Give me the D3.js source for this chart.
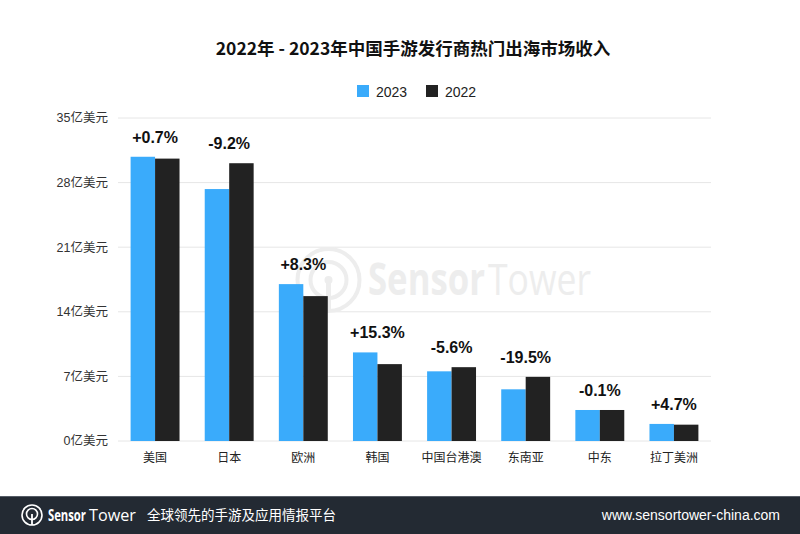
<!DOCTYPE html>
<html><head><meta charset="utf-8">
<script src="https://cdn.jsdelivr.net/npm/d3@7/dist/d3.min.js"></script>
<style>body{margin:0;background:#fff;}svg{display:block;}</style>
</head><body>
<svg id="c" width="800" height="534"></svg>
<script>
const categories = ["美国","日本","欧洲","韩国","中国台港澳","东南亚","中东","拉丁美洲"];
const series = ["2023","2022"];
const values2023 = [30.8, 27.3, 17.0, 9.6, 7.55, 5.6, 3.36, 1.85];
const values2022 = [30.6, 30.1, 15.7, 8.33, 8.0, 6.95, 3.36, 1.77];
const changeLabels = ["+0.7%","-9.2%","+8.3%","+15.3%","-5.6%","-19.5%","-0.1%","+4.7%"];
const yTicks = [0, 7, 14, 21, 28, 35];
const colors = {"2023":"#3aabfb","2022":"#222222"};

const svg = d3.select("#c");
const W = 800, H = 534;
const m = {left:118, right:89, top:118, bottom:93};
const x0 = d3.scaleBand().domain(categories).range([m.left, W - m.right]).paddingInner(0.34).paddingOuter(0.17);
const x1 = d3.scaleBand().domain(series).range([0, x0.bandwidth()]);
const y = d3.scaleLinear().domain([0, 35]).range([H - m.bottom, m.top]);
const latin = "'Liberation Sans', Arial, 'Noto Sans CJK SC', sans-serif";
const cjk = "'Noto Sans CJK SC', sans-serif";
const brand = "'Open Sans', 'Noto Sans', sans-serif";

// fitted text: draws text at (x, baseline) and squeezes it horizontally to targetW
function fitText(parent, str, x, yb, size, weight, fill, targetW) {
  const g = parent.append("g");
  const t = g.append("text").attr("x", 0).attr("y", 0).attr("font-family", brand)
    .attr("font-size", size).attr("font-weight", weight).attr("fill", fill).text(str);
  const w = t.node().getComputedTextLength() || targetW;
  g.attr("transform", `translate(${x},${yb}) scale(${targetW / w},1)`);
  return g;
}

// gridlines
svg.append("g").selectAll("line").data(yTicks).join("line")
  .attr("x1", m.left).attr("x2", W - m.right)
  .attr("y1", d => y(d)).attr("y2", d => y(d))
  .attr("stroke", "#e6e6e6").attr("stroke-width", 1);

// watermark
const wm = svg.append("g");
const wc = "#ededed";
wm.append("circle").attr("cx", 328.5).attr("cy", 280).attr("r", 31).attr("fill", "none").attr("stroke", wc).attr("stroke-width", 4);
wm.append("circle").attr("cx", 328.5).attr("cy", 280).attr("r", 18).attr("fill", "none").attr("stroke", wc).attr("stroke-width", 4);
wm.append("line").attr("x1", 328.5).attr("x2", 328.5).attr("y1", 280).attr("y2", 310).attr("stroke", wc).attr("stroke-width", 5);
wm.append("circle").attr("cx", 328.5).attr("cy", 280).attr("r", 4).attr("fill", wc);
fitText(wm, "Sensor", 368, 295, 44, 700, wc, 117);
fitText(wm, "Tower", 488, 295, 44, 400, wc, 103);

// y axis labels
svg.append("g").selectAll("text").data(yTicks).join("text")
  .attr("x", 108).attr("y", d => y(d)).attr("dy", "0.35em")
  .attr("text-anchor", "end").attr("font-family", latin).attr("font-size", 12.5).attr("fill", "#333")
  .text(d => d + "亿美元");

// bars
const groups = svg.append("g").selectAll("g").data(categories).join("g")
  .attr("transform", d => `translate(${x0(d)},0)`);
groups.selectAll("rect").data((d, i) => [{s:"2023", v:values2023[i]}, {s:"2022", v:values2022[i]}]).join("rect")
  .attr("x", d => x1(d.s)).attr("width", x1.bandwidth())
  .attr("y", d => y(d.v)).attr("height", d => y(0) - y(d.v))
  .attr("fill", d => colors[d.s]);

// change labels
groups.append("text")
  .attr("x", x0.bandwidth() / 2)
  .attr("y", (d, i) => y(Math.max(values2023[i], values2022[i])) - 14)
  .attr("text-anchor", "middle").attr("font-family", latin).attr("font-weight", 700)
  .attr("font-size", 16).attr("fill", "#111")
  .text((d, i) => changeLabels[i]);

// category labels
groups.append("text")
  .attr("x", x0.bandwidth() / 2).attr("y", y(0) + 21)
  .attr("text-anchor", "middle").attr("font-family", cjk).attr("font-size", 12).attr("fill", "#222")
  .text(d => d);

// title
svg.append("text").attr("x", 413).attr("y", 55).attr("text-anchor", "middle")
  .attr("font-family", cjk).attr("font-weight", 700).attr("font-size", 17.5).attr("fill", "#111")
  .text("2022年 - 2023年中国手游发行商热门出海市场收入");

// legend
const lg = svg.append("g");
const legendX = [357, 426];
series.forEach((s, i) => {
  lg.append("rect").attr("x", legendX[i]).attr("y", 85).attr("width", 12).attr("height", 12).attr("fill", colors[s]);
  lg.append("text").attr("x", legendX[i] + 19).attr("y", 96.5).attr("font-family", latin).attr("font-size", 14).attr("fill", "#222").text(s);
});

// footer
svg.append("rect").attr("x", 0).attr("y", 497).attr("width", W).attr("height", 37).attr("fill", "#232a33");
svg.append("line").attr("x1", 0).attr("x2", W).attr("y1", 496.5).attr("y2", 496.5).attr("stroke", "#555c66").attr("stroke-width", 1);
const fl = svg.append("g");
fl.append("circle").attr("cx", 32).attr("cy", 515).attr("r", 10).attr("fill", "none").attr("stroke", "#fff").attr("stroke-width", 1.6);
fl.append("circle").attr("cx", 32).attr("cy", 514).attr("r", 5.5).attr("fill", "none").attr("stroke", "#fff").attr("stroke-width", 1.6);
fl.append("line").attr("x1", 32).attr("x2", 32).attr("y1", 514).attr("y2", 525).attr("stroke", "#fff").attr("stroke-width", 1.8);
fitText(fl, "Sensor", 48, 520.5, 16, 700, "#fff", 38);
fitText(fl, "Tower", 89, 520.5, 16, 400, "#fff", 47);
fl.append("text").attr("x", 147).attr("y", 520).attr("font-family", cjk).attr("font-size", 13.5).attr("fill", "#fff").text("全球领先的手游及应用情报平台");
fl.append("text").attr("x", 780).attr("y", 520).attr("text-anchor", "end").attr("font-family", latin).attr("font-size", 14).attr("fill", "#fff").text("www.sensortower-china.com");
</script>
</body></html>
